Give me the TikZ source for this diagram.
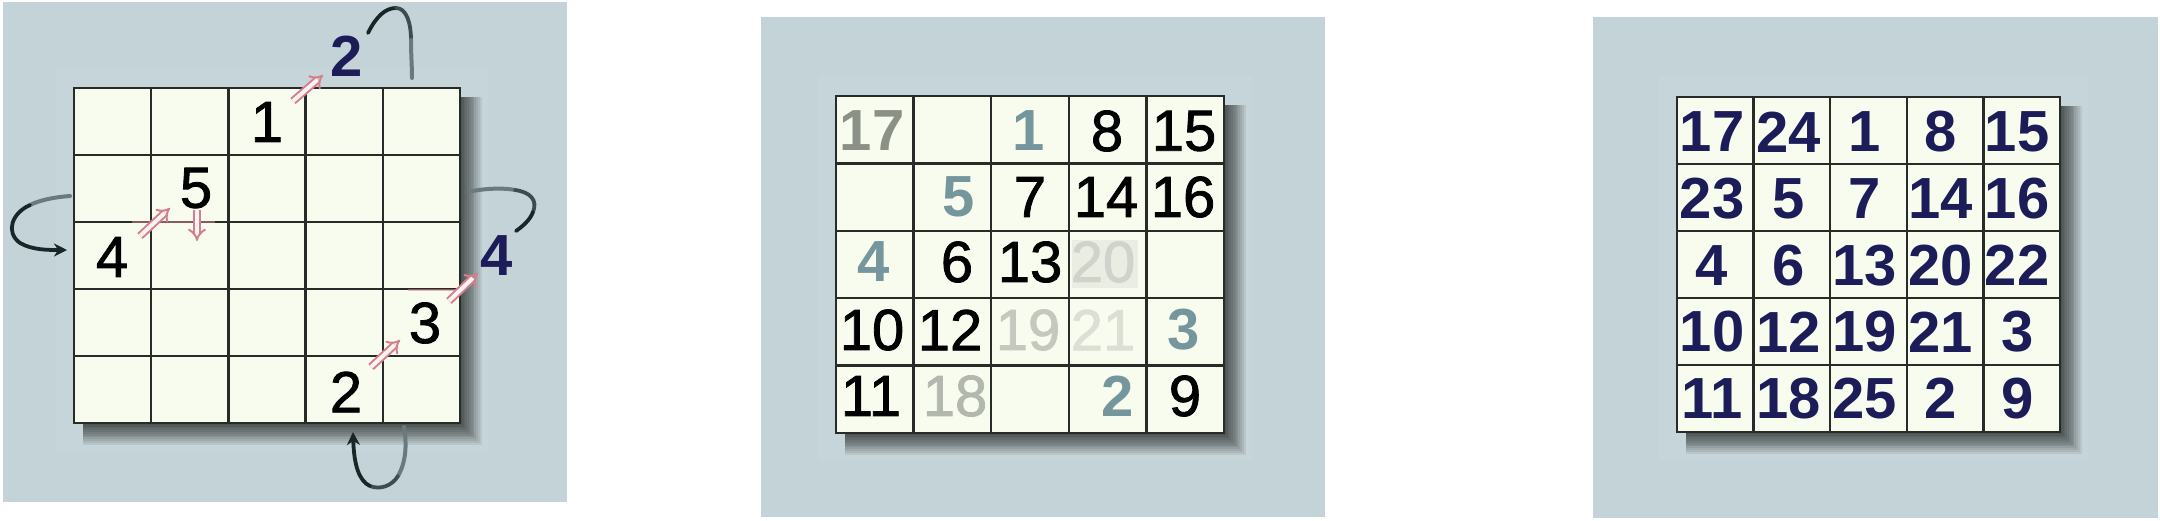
\documentclass[tikz,border=0pt]{standalone}
\usepackage{fontspec}
\setmainfont{Liberation Sans}
\newfontfamily\medfont{Liberation Sans}[FakeBold=1.4]
\usetikzlibrary{arrows.meta}
\definecolor{bgc}{RGB}{195,211,215}
\definecolor{cellc}{RGB}{248,252,238}
\definecolor{gridc}{RGB}{40,44,40}
\definecolor{navy}{RGB}{28,28,88}
\definecolor{bluegray}{RGB}{118,150,158}
\definecolor{gsev}{RGB}{140,145,135}
\definecolor{geight}{RGB}{178,184,174}
\definecolor{gnine}{RGB}{196,200,190}
\definecolor{gtwenty}{RGB}{208,211,203}
\definecolor{gtwone}{RGB}{220,223,213}
\definecolor{pinkc}{RGB}{212,128,140}
\definecolor{cdark}{RGB}{25,38,40}
\definecolor{cmid}{RGB}{60,76,80}
\definecolor{cgray}{RGB}{105,122,126}
\newcommand{\magicgrid}[4]{%
  \fill[white,opacity=0.06] ({#1-18},{#2-21}) rectangle ({#3+28},{#4+28});
  \foreach \k in {1,...,12}{\fill[black,opacity=0.07] ({#1+9},{#2+9}) rectangle ({#3+1.8*\k},{#4+1.8*\k});}
  \fill[cellc] (#1,#2) rectangle (#3,#4);
  \foreach \i in {0,...,5}{
    \draw[gridl] ({#1+\i*(#3-#1)/5},#2) -- ({#1+\i*(#3-#1)/5},#4);
    \draw[gridl] (#1,{#2+\i*(#4-#2)/5}) -- (#3,{#2+\i*(#4-#2)/5});
  }}
\begin{document}
\begin{tikzpicture}[x=1pt,y=-1pt,
  gridl/.style={draw=gridc,line width=2.3pt,line cap=rect},
  num/.style={font=\fontsize{58}{60}\selectfont\medfont,inner sep=0pt,anchor=center,text=black},
  bnum/.style={font=\fontsize{58}{60}\selectfont\bfseries,inner sep=0pt,anchor=center},
  hollow/.style={draw=pinkc,double=white!90!pinkc,double distance=4pt,line width=2pt,-{Implies}},
  pinkline/.style={draw=pinkc,opacity=0.55,line width=2.5pt},
  cdk/.style={draw=cdark,line width=3.8pt,line cap=round},
  cmd/.style={draw=cmid,line width=3.8pt,line cap=round},
  cgr/.style={draw=cgray,line width=4pt,line cap=round},
  tipst/.style={-{Stealth[length=13pt,width=13pt]}}]
\useasboundingbox (0,0) rectangle (2160,520);
\fill[white] (0,0) rectangle (2160,520);
% ---------------- panel 1 ----------------
\fill[bgc] (3,2) rectangle (567,502);
\magicgrid{74}{88}{460}{423}
\draw[pinkline] (132,222) -- (215,222);
\draw[pinkline] (408,290) -- (458,290);
\node[num] (a1) at (267,122) {1};
\node[num] (a5) at (196,188) {5};
\node[num] (a4) at (112,257) {4};
\node[num] (a2) at (346,392) {2};
\node[num] (a3) at (425,323) {3};
\node[bnum,text=navy] (o2) at (347,56) {2};
\node[bnum,text=navy] (o4) at (497,256) {4};
% hollow pink arrows
\coordinate (h1s) at (293,101); \coordinate (h1e) at (323,75);
\coordinate (h2s) at (140,236); \coordinate (h2e) at (170,208);
\coordinate (h3s) at (197,210); \coordinate (h3e) at (197,241);
\coordinate (h4s) at (371,367); \coordinate (h4e) at (400,340);
\coordinate (h5s) at (449,301); \coordinate (h5e) at (478,273);
\draw[hollow] (h1s) -- (h1e);
\draw[hollow] (h2s) -- (h2e);
\draw[hollow] (h3s) -- (h3e);
\draw[hollow] (h4s) -- (h4e);
\draw[hollow] (h5s) -- (h5e);
% wrap-around curves
\coordinate (t0) at (368,33); \coordinate (t1) at (396,8);
\coordinate (t2) at (411,40); \coordinate (t3) at (412,78);
\draw[cdk] (t0) .. controls (376,17) and (385,8) .. (t1);
\draw[cmd] (t1) .. controls (406,8) and (411,22) .. (t2);
\draw[cgr] (t2) .. controls (411,55) and (412,66) .. (t3);
\coordinate (r0) at (472,191); \coordinate (r1) at (515,190);
\coordinate (r2) at (533,212); \coordinate (r3) at (516,231);
\draw[cgr] (r0) .. controls (490,188) and (505,188) .. (r1);
\draw[cmd] (r1) .. controls (530,192) and (538,200) .. (r2);
\draw[cdk] (r2) .. controls (530,220) and (523,226) .. (r3);
\coordinate (l0) at (70,196); \coordinate (l1) at (30,205);
\coordinate (l2) at (20,243); \coordinate (l3) at (67,250);
\draw[cgr] (l0) .. controls (55,197) and (40,200) .. (l1);
\draw[cdk] (l1) .. controls (12,213) and (5,232) .. (l2);
\draw[cdk,tipst] (l2) .. controls (32,250) and (48,250) .. (l3);
\coordinate (b0) at (404,427); \coordinate (b1) at (398,476);
\coordinate (b2) at (370,486); \coordinate (b3) at (353,432);
\draw[cgr] (b0) .. controls (407,445) and (406,462) .. (b1);
\draw[cmd] (b1) .. controls (392,486) and (380,490) .. (b2);
\draw[cdk,tipst] (b2) .. controls (359,481) and (354,465) .. (b3);
% ---------------- panel 2 ----------------
\fill[bgc] (761,17) rectangle (1325,517);
\magicgrid{836}{96}{1224}{433}
\fill[gtwenty!35!cellc] (1072,240) rectangle (1138,288);
\node[bnum,text=gsev] (b17) at (872,131) {17};
\node[bnum,text=bluegray] (b1) at (1029,131) {1};
\node[num] (b8) at (1107,131) {8};
\node[num] (b15) at (1184,131) {15};
\node[bnum,text=bluegray] (b5) at (959,197) {5};
\node[num] (b7) at (1030,197) {7};
\node[num] (b14) at (1106,197) {14};
\node[num] (b16) at (1183,197) {16};
\node[bnum,text=bluegray] (b4) at (874,262) {4};
\node[num] (b6) at (957,262) {6};
\node[num] (b13) at (1030,262) {13};
\node[num,text=gtwenty] (b20) at (1103,262) {20};
\node[num] (b10) at (872,330) {10};
\node[num] (b12) at (950,330) {12};
\node[num,text=gnine] (b19) at (1028,330) {19};
\node[num,text=gtwone] (b21) at (1103,330) {21};
\node[bnum,text=bluegray] (b3) at (1184,330) {3};
\node[num] (b11) at (871,396) {11};
\node[num,text=geight] (b18) at (955,396) {18};
\node[bnum,text=bluegray] (b2) at (1118,396) {2};
\node[num] (b9) at (1185,396) {9};
% ---------------- panel 3 ----------------
\fill[bgc] (1593,17) rectangle (2158,518);
\magicgrid{1677}{97}{2060}{432}
\foreach \v/\c/\r in {17/1/1,24/2/1,1/3/1,8/4/1,15/5/1,
                      23/1/2,5/2/2,7/3/2,14/4/2,16/5/2,
                      4/1/3,6/2/3,13/3/3,20/4/3,22/5/3,
                      10/1/4,12/2/4,19/3/4,21/4/4,3/5/4,
                      11/1/5,18/2/5,25/3/5,2/4/5,9/5/5}{
  \pgfmathsetmacro{\xx}{1712+76.3*(\c-1)}
  \pgfmathsetmacro{\yy}{132+66.6*(\r-1)}
  \node[bnum,text=navy] (c\v) at (\xx,\yy) {\v};
}
\end{tikzpicture}
\end{document}
